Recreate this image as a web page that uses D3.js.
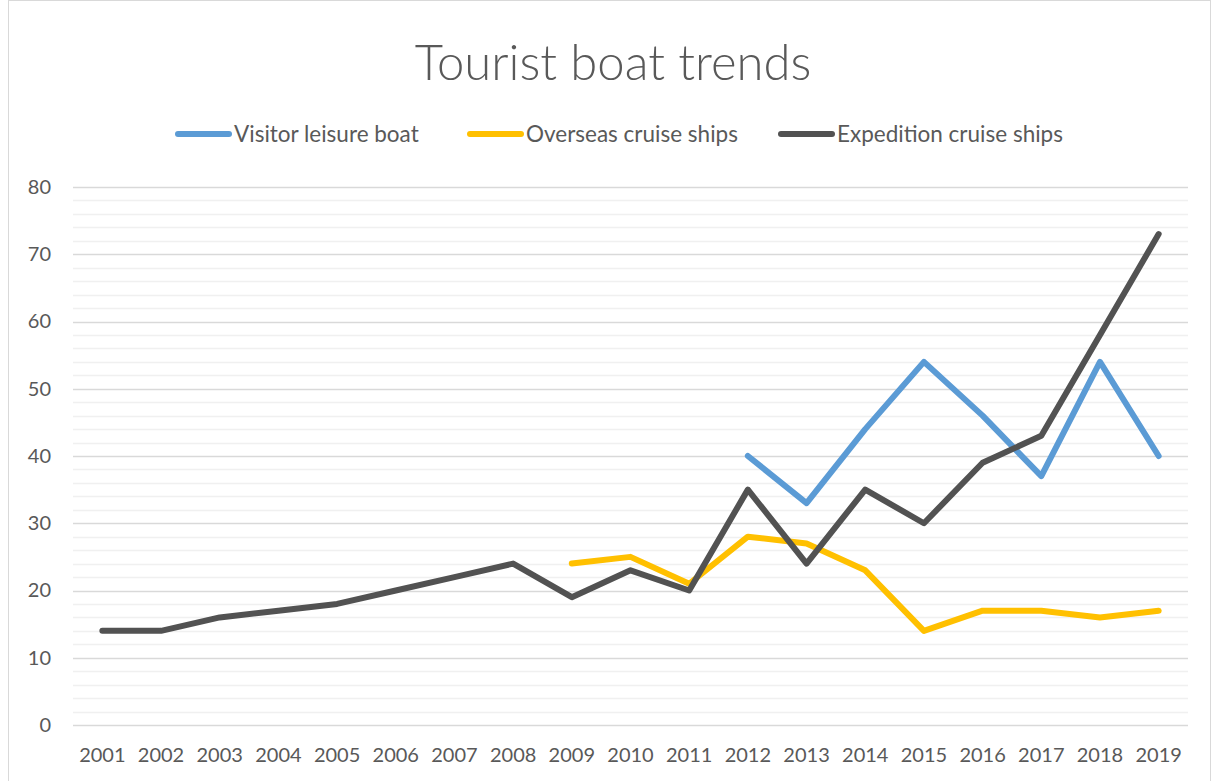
<!DOCTYPE html>
<meta charset="utf-8">
<style>
  body { margin: 0; background: #fff; }
  svg text { font-family: Lato, "Open Sans", sans-serif; fill: #595959; }
</style>
<script src="https://d3js.org/d3.v7.min.js"></script>
<div id="chart"></div>
<script>
// data
var years = ["2001","2002","2003","2004","2005","2006","2007","2008","2009","2010",
             "2011","2012","2013","2014","2015","2016","2017","2018","2019"];
var visitorLeisure = [null,null,null,null,null,null,null,null,null,null,
                      null,40,33,44,54,46,37,54,40];
var overseasCruise = [null,null,null,null,null,null,null,null,24,25,
                      21,28,27,23,14,17,17,16,17];
var expeditionCruise = [14,14,16,17,18,20,22,24,19,23,
                        20,35,24,35,30,39,43,58,73];
var seriesNames = ["Visitor leisure boat", "Overseas cruise ships", "Expedition cruise ships"];
var seriesColors = ["#5B9BD5", "#FFC000", "#525252"];
var yTicks = [0, 10, 20, 30, 40, 50, 60, 70, 80];

var W = 1214, H = 781;
var margin = {top: 187, right: 26, bottom: 56, left: 73};
var width = W - margin.left - margin.right,
    height = H - margin.top - margin.bottom;

var svg = d3.select("#chart").append("svg")
    .attr("width", W).attr("height", H);

// outer chart border
svg.append("rect")
    .attr("x", 8.5).attr("y", 0.5)
    .attr("width", W - 12).attr("height", H + 5)
    .attr("fill", "none").attr("stroke", "#d9d9d9");

svg.append("text")
    .attr("x", 613).attr("y", 80)
    .attr("text-anchor", "middle")
    .style("font-size", "49px")
    .style("font-weight", 300)
    .text("Tourist boat trends");

var g = svg.append("g")
    .attr("transform", "translate(" + margin.left + "," + margin.top + ")");

var x = d3.scaleBand().domain(years).range([0, width]);
var y = d3.scaleLinear().domain([0, 80]).range([height, 0]);

// minor gridlines every 2
g.append("g").selectAll("line")
  .data(d3.range(2, 80, 2).filter(function(v) { return v % 10 != 0; }))
  .enter().append("line")
    .attr("x1", 0).attr("x2", width)
    .attr("y1", function(d) { return Math.round(y(d)) + 0.5; })
    .attr("y2", function(d) { return Math.round(y(d)) + 0.5; })
    .attr("stroke", "#f0f0f0").attr("stroke-width", 1.5);

// major gridlines
g.append("g").selectAll("line")
  .data(yTicks)
  .enter().append("line")
    .attr("x1", 0).attr("x2", width)
    .attr("y1", function(d) { return Math.round(y(d)) + 0.5; })
    .attr("y2", function(d) { return Math.round(y(d)) + 0.5; })
    .attr("stroke", "#d9d9d9").attr("stroke-width", 1.5);

// y axis labels
var yAxis = g.append("g")
  .attr("transform", "translate(-22,0)")
  .call(d3.axisLeft(y).tickValues(yTicks).tickSize(0).tickPadding(0));
yAxis.select(".domain").remove();
yAxis.selectAll("text").style("font-size", "20px").attr("fill", "#595959");

// x axis labels
var xAxis = g.append("g")
  .attr("transform", "translate(0," + height + ")")
  .call(d3.axisBottom(x).tickSize(0).tickPadding(23));
xAxis.select(".domain").remove();
xAxis.selectAll("text").style("font-size", "20px").attr("fill", "#595959");

var allSeries = [visitorLeisure, overseasCruise, expeditionCruise];
var line = d3.line()
    .defined(function(d) { return d != null; })
    .x(function(d, i) { return x(years[i]) + x.bandwidth() / 2; })
    .y(function(d) { return y(d); });

// dark series drawn last so it sits on top
[0, 1, 2].forEach(function(k) {
  g.append("path")
    .datum(allSeries[k])
    .attr("d", line)
    .attr("fill", "none")
    .attr("stroke", seriesColors[k])
    .attr("stroke-width", 6)
    .attr("stroke-linecap", "round")
    .attr("stroke-linejoin", "round");
});

// legend
var legendX = [175, 467, 778];
var legend = svg.append("g").attr("transform", "translate(0,134)");
seriesNames.forEach(function(name, k) {
  legend.append("line")
    .attr("x1", legendX[k] + 3).attr("x2", legendX[k] + 54)
    .attr("y1", 0).attr("y2", 0)
    .attr("stroke", seriesColors[k]).attr("stroke-width", 6)
    .attr("stroke-linecap", "round");
  legend.append("text")
    .attr("x", legendX[k] + 59).attr("y", 8)
    .style("font-size", "22.5px")
    .text(name);
});
</script>
